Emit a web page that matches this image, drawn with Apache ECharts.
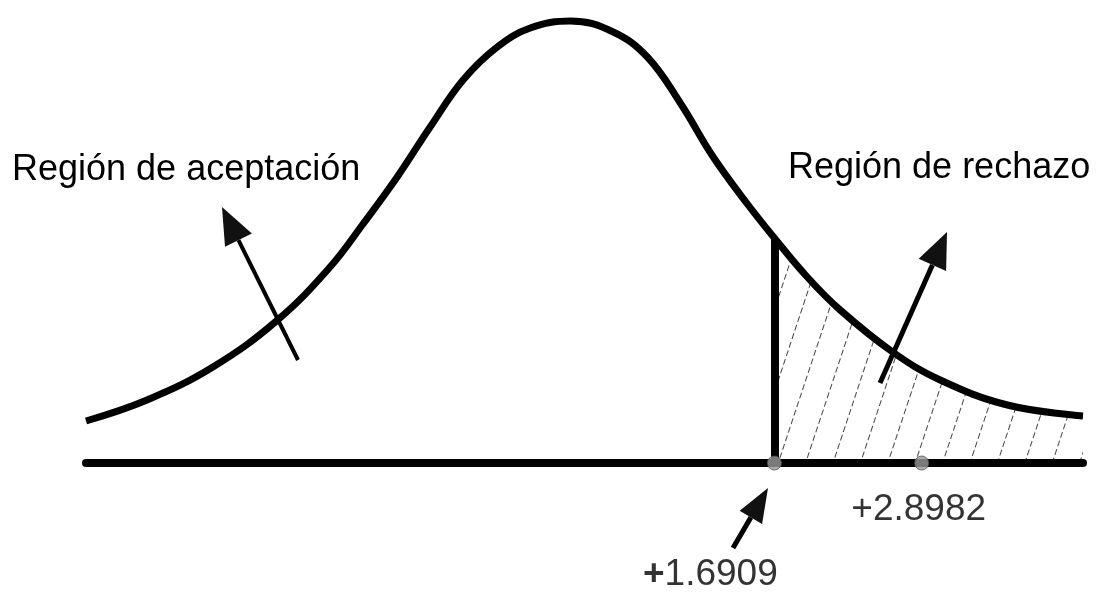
<!DOCTYPE html>
<html>
<head>
<meta charset="utf-8">
<script src="https://cdn.jsdelivr.net/npm/echarts@6/dist/echarts.min.js"></script>
<style>
  html, body { margin: 0; padding: 0; background: #fff; }
  #chart { width: 1102px; height: 593px; }
</style>
</head>
<body>
<div id="chart"></div>
<script>
// curva (x en unidades z, y en altura relativa)
const curveX = [-3.95, -3.45, -2.91, -2.38, -1.95, -1.68, -1.40, -1.13, -0.86, -0.58, -0.31, 0.02,
  0.37, 0.65, 0.92, 1.19, 1.47, 1.6909, 1.96, 2.23, 2.66, 3.05, 3.60, 4.22]
const curveY = [0.042, 0.063, 0.096, 0.143, 0.196, 0.239, 0.286, 0.336, 0.383, 0.416, 0.435, 0.442,
  0.431, 0.406, 0.360, 0.306, 0.259, 0.225, 0.186, 0.153, 0.111, 0.083, 0.058, 0.047]
const criticalValues = [1.6909, 2.8982]
const tickLabels = ['+1.6909', '+2.8982']
const regionLabels = ['Región de aceptación', 'Región de rechazo']

const FONT = "'Liberation Sans', Arial, sans-serif"

const curve = curveX.map((x, i) => [x, curveY[i]])
const cut = criticalValues[0]
const tail = curve.filter(p => p[0] >= cut)
const cutY = curveY[curveX.indexOf(cut)]

// flecha: linea + triangulo relleno
function arrow (from, to, w, headLen, headHalf) {
  const dx = to[0] - from[0]
  const dy = to[1] - from[1]
  const len = Math.sqrt(dx * dx + dy * dy)
  const ux = dx / len
  const uy = dy / len
  const bx = to[0] - ux * headLen
  const by = to[1] - uy * headLen
  return [
    {
      type: 'line',
      z: 10,
      shape: { x1: from[0], y1: from[1], x2: bx, y2: by },
      style: { stroke: '#000', lineWidth: w }
    },
    {
      type: 'polygon',
      z: 10,
      shape: { points: [to, [bx - uy * headHalf, by + ux * headHalf], [bx + uy * headHalf, by - ux * headHalf]] },
      style: { fill: '#111' }
    }
  ]
}

const myChart = echarts.init(document.getElementById('chart'))
myChart.setOption({
  animation: false,
  backgroundColor: '#fff',
  grid: { left: 86, right: 19, top: 13, bottom: 130 },
  xAxis: {
    type: 'value',
    min: -3.95,
    max: 4.22,
    axisLine: { show: true, lineStyle: { color: '#000', width: 8 } },
    axisTick: { show: false },
    axisLabel: { show: false },
    splitLine: { show: false }
  },
  yAxis: {
    type: 'value',
    min: 0,
    max: 0.45,
    show: false,
    splitLine: { show: false }
  },
  series: [
    {
      name: 'rechazo',
      type: 'line',
      data: tail,
      smooth: 0.4,
      symbol: 'none',
      lineStyle: { width: 0 },
      itemStyle: {
        color: '#fff',
        decal: {
          symbol: 'rect',
          symbolSize: 1,
          symbolKeepAspect: false,
          color: '#444',
          backgroundColor: '#fff',
          dashArrayX: [6, 3],
          dashArrayY: [1, 25],
          rotation: -1.25
        }
      },
      areaStyle: { color: '#fff', opacity: 1 },
      z: -1
    },
    {
      name: 'curva',
      type: 'line',
      data: curve,
      smooth: 0.4,
      symbol: 'none',
      lineStyle: { color: '#000', width: 7 },
      markLine: {
        silent: true,
        symbol: 'none',
        label: { show: false },
        lineStyle: { color: '#000', width: 8, type: 'solid' },
        data: [[{ coord: [cut, 0] }, { coord: [cut, cutY] }]]
      },
      z: 3
    },
    {
      name: 'valores',
      type: 'scatter',
      clip: false,
      symbolSize: 14,
      itemStyle: { color: '#9a9a9a', borderColor: '#555', borderWidth: 1 },
      data: criticalValues.map((v, i) => ({
        value: [v, 0],
        label: {
          show: true,
          position: 'inside',
          offset: i === 0 ? [-64, 112] : [-3, 47],
          formatter: i === 0 ? '{b|+}' + tickLabels[i].slice(1) : tickLabels[i],
          fontSize: 37,
          fontFamily: FONT,
          color: '#000',
          rich: { b: { fontSize: 37, fontFamily: FONT, fontWeight: 'bold', color: '#000' } }
        }
      })),
      z: 5
    }
  ],
  graphic: [
    {
      type: 'text',
      x: 12,
      y: 170,
      style: { text: regionLabels[0], font: '36px ' + FONT, fill: '#000', verticalAlign: 'middle' }
    },
    {
      type: 'text',
      x: 788,
      y: 168,
      style: { text: regionLabels[1], font: '36px ' + FONT, fill: '#000', verticalAlign: 'middle' }
    }
  ].concat(
    arrow([298, 360], [222, 207], 4, 37, 15),
    arrow([880, 383], [947, 232], 5, 36, 15),
    arrow([733, 548], [768, 488], 5, 34, 13)
  )
})
</script>
</body>
</html>
